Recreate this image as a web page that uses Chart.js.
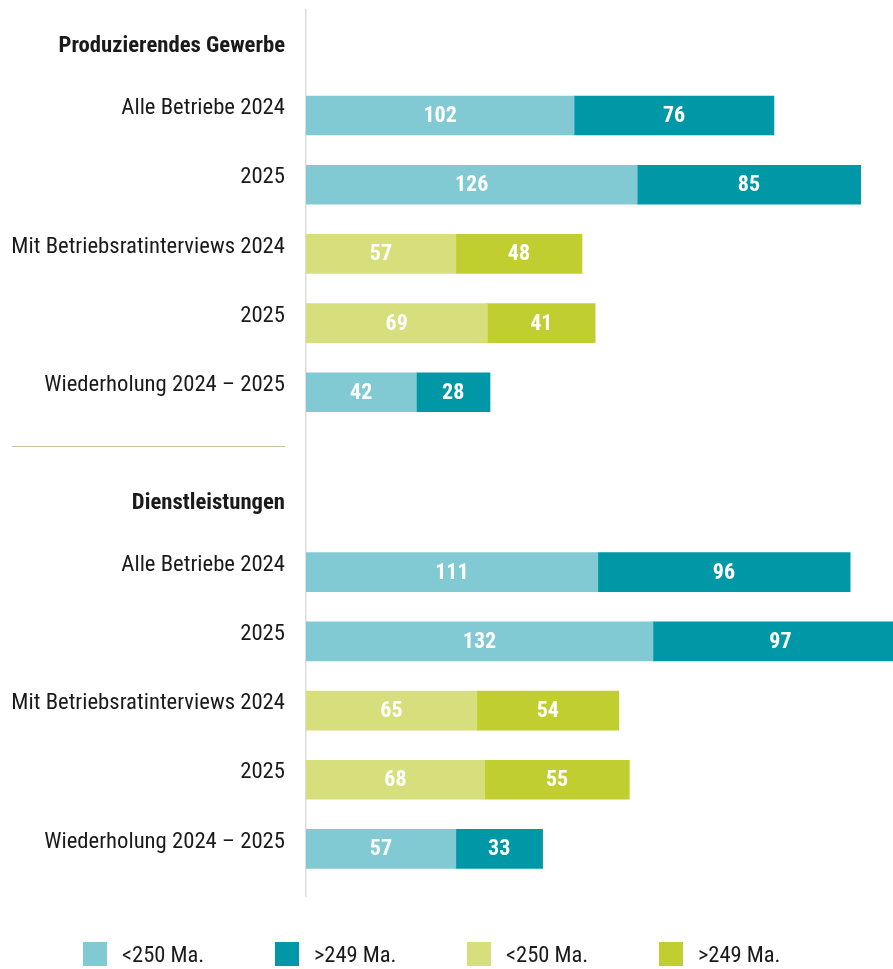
<!DOCTYPE html>
<html>
<head>
<meta charset="utf-8">
<script src="https://cdn.jsdelivr.net/npm/chart.js@4.4.1/dist/chart.umd.min.js"></script>
<style>
  html, body { margin: 0; padding: 0; background: #ffffff; }
  #wrap { position: relative; width: 893px; height: 969px; overflow: hidden; }
  #chart { position: absolute; left: 0; top: 0; }
  #legend { position: absolute; left: 0; top: 942px; width: 893px; height: 27px; }
  .lg-item { position: absolute; top: 0; display: flex; align-items: center; height: 24px;
             font-family: 'Roboto Condensed', 'Liberation Sans Narrow', 'DejaVu Sans Condensed', Roboto, sans-serif;
             font-size: 22.5px; color: #1a1a1a; white-space: nowrap; }
  .lg-box { width: 24px; height: 24px; margin-right: 15px; flex: none; }
</style>
</head>
<body>
<div id="wrap">
  <canvas id="chart" width="893" height="969"></canvas>
  <div id="legend"></div>
</div>
<script>
// ---------- DATA ----------
const sections = ['Produzierendes Gewerbe', 'Dienstleistungen'];
const categories = ['Alle Betriebe 2024', '2025', 'Mit Betriebsratinterviews 2024', '2025', 'Wiederholung 2024 – 2025'];
const categoryGroup = ['alle', 'alle', 'br', 'br', 'alle']; // which colour family each row belongs to
const under250Prod = [102, 126, 57, 69, 42];
const over249Prod  = [76, 85, 48, 41, 28];
const under250Dienst = [111, 132, 65, 68, 57];
const over249Dienst  = [96, 97, 54, 55, 33];
const legendLabels = ['<250 Ma.', '>249 Ma.', '<250 Ma.', '>249 Ma.'];

// ---------- LAYOUT (index-axis slots, not data) ----------
const headerSlots = [0.1, 6.7];
const rowSlots = [[1, 2, 3, 4, 5], [7.6, 8.6, 9.6, 10.6, 11.6]];
const separatorSlot = 5.78;
const yRange = [-0.525, 12.28];
const xMax = 223.3;

const FONT = "'Roboto Condensed', 'Liberation Sans Narrow', 'DejaVu Sans Condensed', Roboto, sans-serif";
const colors = ['#82cad3', '#0098a7', '#d6df7b', '#c0cf2f'];

// ---------- BUILD ----------
const under = [under250Prod, under250Dienst];
const over = [over249Prod, over249Dienst];

const tickPositions = [];
const tickLabels = [];
const tickIsHeader = [];
sections.forEach((s, si) => {
  tickPositions.push(headerSlots[si]); tickLabels.push(s); tickIsHeader.push(true);
  categories.forEach((c, ci) => {
    tickPositions.push(rowSlots[si][ci]); tickLabels.push(c); tickIsHeader.push(false);
  });
});

function series(group, src) {
  const out = [];
  sections.forEach((s, si) => {
    categories.forEach((c, ci) => {
      if (categoryGroup[ci] === group) out.push({ y: rowSlots[si][ci], x: src[si][ci] });
    });
  });
  return out;
}

const datasets = [
  { label: legendLabels[0], data: series('alle', under), backgroundColor: colors[0] },
  { label: legendLabels[1], data: series('alle', over),  backgroundColor: colors[1] },
  { label: legendLabels[2], data: series('br', under),   backgroundColor: colors[2] },
  { label: legendLabels[3], data: series('br', over),    backgroundColor: colors[3] }
];
datasets.forEach(d => { d.barThickness = 39; d.borderWidth = 0; d.stack = 's'; });

const valueLabels = {
  id: 'valueLabels',
  afterDatasetsDraw(chart) {
    const ctx = chart.ctx;
    ctx.save();
    ctx.fillStyle = '#ffffff';
    ctx.font = 'bold 22px ' + FONT;
    ctx.textAlign = 'center';
    ctx.textBaseline = 'middle';
    chart.data.datasets.forEach((ds, di) => {
      const meta = chart.getDatasetMeta(di);
      meta.data.forEach((el, i) => {
        const p = el.getProps(['x', 'y', 'base'], true);
        ctx.fillText(String(ds.data[i].x), (p.x + p.base) / 2, p.y + 1);
      });
    });
    ctx.restore();
  }
};

const separator = {
  id: 'separator',
  afterDraw(chart) {
    const ys = chart.scales.y;
    const y = Math.round(ys.getPixelForValue(separatorSlot)) + 0.5;
    const ctx = chart.ctx;
    ctx.save();
    ctx.strokeStyle = '#cbbe9e';
    ctx.lineWidth = 1.2;
    ctx.beginPath();
    ctx.moveTo(12, y);
    ctx.lineTo(chart.chartArea.left - 21, y);
    ctx.stroke();
    ctx.restore();
  }
};

new Chart(document.getElementById('chart'), {
  type: 'bar',
  data: { datasets },
  options: {
    indexAxis: 'y',
    responsive: false,
    animation: false,
    layout: { padding: { left: 0, right: 0, top: 10, bottom: 73 } },
    plugins: { legend: { display: false }, tooltip: { enabled: false } },
    scales: {
      x: { type: 'linear', stacked: true, min: 0, max: xMax, display: false },
      y: {
        type: 'linear', stacked: true, reverse: true, min: yRange[0], max: yRange[1],
        offset: false,
        grid: { display: false, drawTicks: false, offset: false },
        border: { display: true, color: '#dcdcdc', width: 1.5 },
        afterBuildTicks(scale) { scale.ticks = tickPositions.map(v => ({ value: v })); },
        afterFit(scale) { scale.width = 306; scale.paddingTop = 0; scale.paddingBottom = 0; },
        ticks: {
          autoSkip: false,
          padding: 21,
          labelOffset: -7,
          color: '#1a1a1a',
          font: (c) => ({ family: FONT, size: 22.7, weight: tickIsHeader[c.index] ? 'bold' : 'normal' }),
          callback: (v, i) => tickLabels[i]
        }
      }
    }
  },
  plugins: [valueLabels, separator]
});

// ---------- HTML LEGEND ----------
const lg = document.getElementById('legend');
legendLabels.forEach((t, i) => {
  const item = document.createElement('div');
  item.className = 'lg-item';
  item.style.left = (83 + i * 192) + 'px';
  const b = document.createElement('span');
  b.className = 'lg-box';
  b.style.background = colors[i];
  const s = document.createElement('span');
  s.textContent = t;
  item.appendChild(b); item.appendChild(s);
  lg.appendChild(item);
});
</script>
</body>
</html>
